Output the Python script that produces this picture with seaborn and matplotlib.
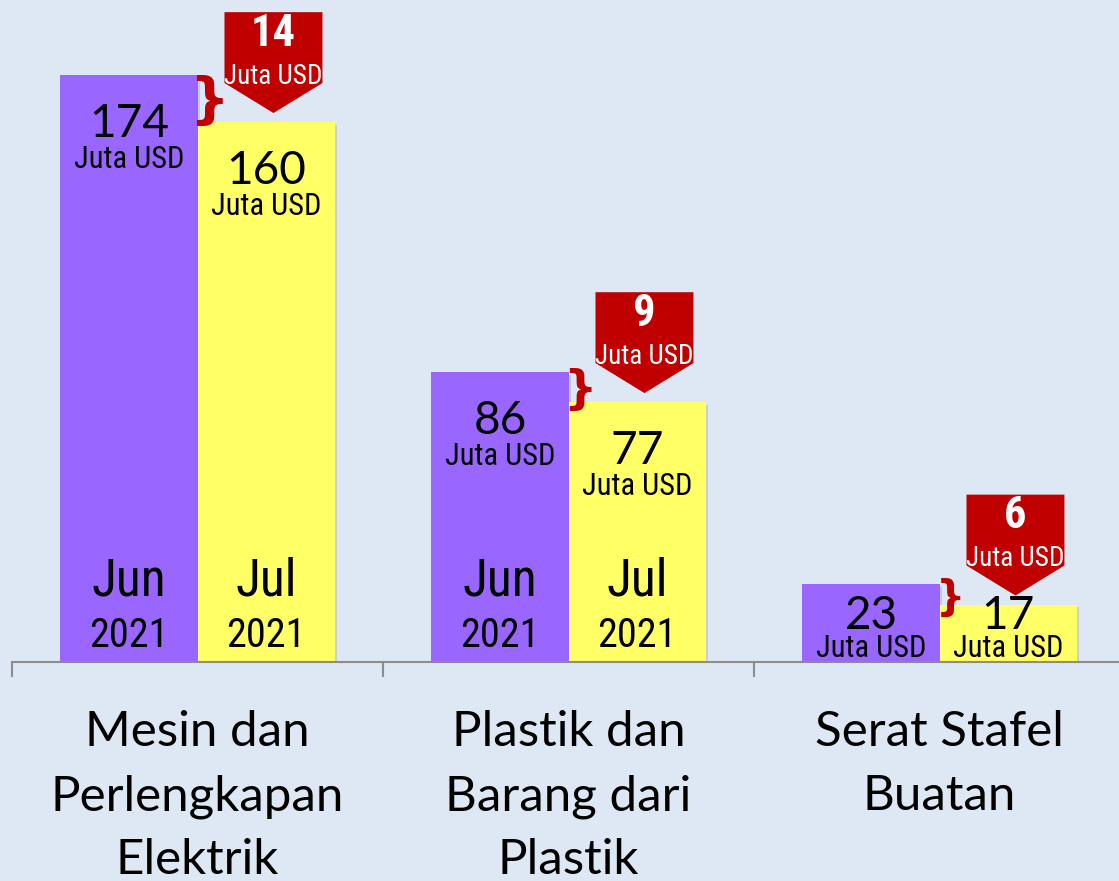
import pandas as pd
import matplotlib
matplotlib.use("Agg")
import matplotlib.pyplot as plt
import matplotlib.patheffects as pe
from matplotlib.patches import Polygon
from matplotlib import font_manager
import seaborn as sns

# data
kategori = ["Mesin dan\nPerlengkapan\nElektrik", "Plastik dan\nBarang dari\nPlastik", "Serat Stafel\nBuatan"]
jun_2021 = [174, 86, 23]
jul_2021 = [160, 77, 17]
periode = ["Jun 2021", "Jul 2021"]
satuan = "Juta USD"

UNGU = "#9966FF"
KUNING = "#FFFF66"
MERAH = "#C00000"
LATAR = "#DEE8F4"

names = {f.name for f in font_manager.fontManager.ttflist}
NARROW = [f for f in ["Liberation Sans Narrow", "Roboto Condensed", "Roboto"] if f in names][:1] + ["DejaVu Sans"]
WIDE = ["Lato", "DejaVu Sans"]

sns.set_style("white")
plt.rcParams["font.family"] = WIDE
plt.rcParams["text.color"] = "black"

df = pd.DataFrame({
    "kategori": kategori * 2,
    "nilai": jun_2021 + jul_2021,
    "periode": [periode[0]] * 3 + [periode[1]] * 3,
})

fig = plt.figure(figsize=(11.19, 8.81), dpi=100, facecolor=LATAR)
ax = fig.add_axes([12 / 1119, 219 / 881, 1113 / 1119, 662 / 881])
ax.set_facecolor(LATAR)

sns.barplot(data=df, x="kategori", y="nilai", hue="periode", palette=[UNGU, KUNING],
            width=0.739, saturation=1, gap=0, legend=False, ax=ax, zorder=2,
            linewidth=0)

for p in ax.patches:
    p.set_path_effects([pe.SimplePatchShadow(offset=(2, -2), alpha=0.15), pe.Normal()])

ax.set_xlim(-0.5, 2.5)
ax.set_ylim(0, 196.2)
ax.set_yticks([])
ax.set_xlabel("")
ax.set_ylabel("")
for s in ["top", "right", "left"]:
    ax.spines[s].set_visible(False)
ax.spines["bottom"].set_color("#8c8c8c")
ax.spines["bottom"].set_linewidth(1.5)
ax.set_xticks([-0.5, 0.5, 1.5, 2.5])
ax.set_xticklabels([])
ax.tick_params(axis="x", bottom=True, length=11, width=1.5, color="#8c8c8c",
               direction="out")

# category labels
for i, k in enumerate(kategori):
    ax.text(i, -14.3, k, ha="center", va="top", fontsize=35.5, linespacing=1.55,
            family=WIDE, color="black", clip_on=False)

bars_jun, bars_jul = ax.containers[0], ax.containers[1]

for grp in range(len(kategori)):
    for bars, nama in ((bars_jun, periode[0]), (bars_jul, periode[1])):
        b = bars[grp]
        cx = b.get_x() + b.get_width() / 2
        v = b.get_height()
        y_num = max(v - 14.5, 13.6)
        y_sat = max(y_num - 10.6, 3.9)
        ax.text(cx, y_num, f"{v:g}", ha="center", va="center", fontsize=33,
                family=WIDE, zorder=5)
        ax.text(cx, y_sat, satuan, ha="center", va="center", fontsize=22,
                family=NARROW, zorder=5)
        if v > 50:
            bulan, tahun = nama.split()
            ax.text(cx, 24.0, bulan, ha="center", va="center", fontsize=37,
                    family=NARROW, zorder=5)
            ax.text(cx, 7.8, tahun, ha="center", va="center", fontsize=29,
                    family=NARROW, zorder=5)

    # selisih: brace + red callout
    bj, bl = bars_jun[grp], bars_jul[grp]
    vj, vl = bj.get_height(), bl.get_height()
    turun = vj - vl
    ax.text(bl.get_x() + 0.03, (vj + vl) / 2 - 1, "}", ha="center", va="center",
            fontsize=22 + 1.3 * turun, color=MERAH, fontweight="bold",
            family=["DejaVu Sans"], zorder=6)

    cx = bl.get_x() + bl.get_width() / 2 + 0.02
    hw = 0.132
    ujung = vl + 2.7
    bawah = vl + 11.6
    atas = vl + 32.6
    poly = Polygon([(cx - hw, atas), (cx + hw, atas), (cx + hw, bawah), (cx, ujung),
                    (cx - hw, bawah)], closed=True, facecolor=MERAH, edgecolor="none",
                   zorder=6)
    ax.add_patch(poly)
    ax.text(cx, vl + 26.2, f"{turun:g}", ha="center", va="center", fontsize=32,
            color="white", fontweight="bold", family=NARROW, zorder=7)
    ax.text(cx, vl + 13.6, satuan, ha="center", va="center", fontsize=19.5,
            color="white", family=NARROW, zorder=7)

fig.savefig("out.png", dpi=100, facecolor=LATAR)
